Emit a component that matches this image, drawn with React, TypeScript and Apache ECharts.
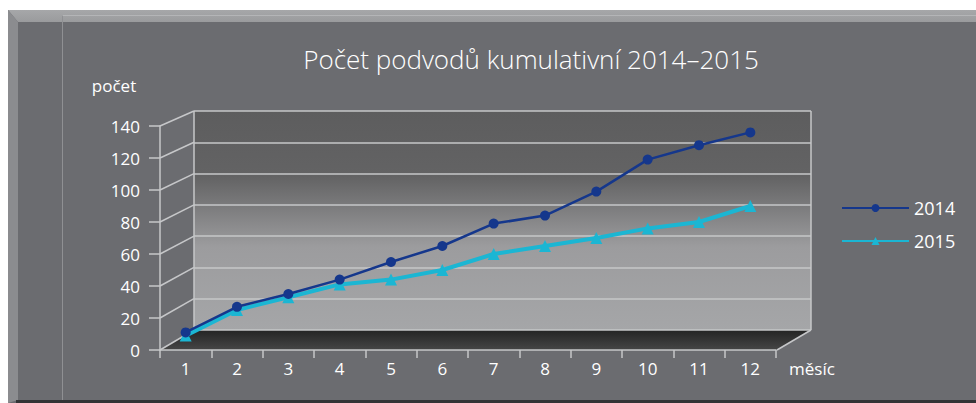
import React, { useEffect, useRef } from "react";
import * as echarts from "echarts";

const months = ["1", "2", "3", "4", "5", "6", "7", "8", "9", "10", "11", "12"];
const s2014 = [11, 27, 35, 44, 55, 65, 79, 84, 99, 119, 128, 136];
const s2015 = [9, 25, 33, 41, 44, 50, 60, 65, 70, 76, 80, 90];
const yTicks = [0, 20, 40, 60, 80, 100, 120, 140];
const seriesNames = ["2014", "2015"];
const titleText = "Počet podvodů kumulativní 2014–2015";
const yName = "počet";
const xName = "měsíc";

const W = 976;
const H = 403;
const FRONT = { left: 160, top: 126, right: 776, bottom: 350 };
const BACK = { left: 194, top: 111, right: 811, bottom: 330 };
const Y_MAX = 140;
const FONT = '"Open Sans", "DejaVu Sans", sans-serif';
const BG = "#6b6c70";
const LINEC = "#c6c7c9";

export default function App() {
  const ref = useRef<HTMLDivElement>(null);
  useEffect(() => {
    if (!ref.current) return;
    const chart = echarts.init(ref.current, undefined, { renderer: "svg" });
    const yF = (v: number) => FRONT.bottom - (v / Y_MAX) * (FRONT.bottom - FRONT.top);
    const yB = (v: number) => BACK.bottom - (v / Y_MAX) * (BACK.bottom - BACK.top);
    const sideLines = yTicks.map((v) => ({
      type: "line",
      z: 1,
      shape: { x1: FRONT.left, y1: yF(v), x2: BACK.left, y2: yB(v) },
      style: { stroke: LINEC, lineWidth: 1.5 },
    }));
    const option: any = {
      animation: false,
      graphic: [
        { type: "rect", z: -10, shape: { x: 8, y: 10, width: W - 8, height: H - 10 }, style: { fill: BG } },
        {
          type: "polygon",
          z: -9,
          shape: { points: [[8, 10], [W, 10], [W, 22], [18, 22]] },
          style: {
            fill: { type: "linear", x: 0, y: 0, x2: 0, y2: 1, colorStops: [
              { offset: 0, color: "#a6a7a9" },
              { offset: 1, color: "#9a9b9d" },
            ] },
          },
        },
        { type: "polygon", z: -9, shape: { points: [[8, 10], [18, 22], [18, 400], [8, 403]] }, style: { fill: "#8b8c8f" } },
        { type: "rect", z: -9, shape: { x: 16, y: 400, width: W - 16, height: 3 }, style: { fill: "#333436" } },
        { type: "line", z: -8, shape: { x1: 62, y1: 15.5, x2: W, y2: 15.5 }, style: { stroke: "#b4b5b7", lineWidth: 1 } },
        { type: "line", z: -8, shape: { x1: 62.5, y1: 15.5, x2: 62.5, y2: 400 }, style: { stroke: "#8f9093", lineWidth: 1 } },
        {
          type: "polygon",
          z: 0,
          shape: { points: [[FRONT.left, FRONT.bottom], [FRONT.right + 1, FRONT.bottom], [BACK.right, BACK.bottom], [BACK.left, BACK.bottom]] },
          style: {
            fill: { type: "linear", x: 0, y: 0, x2: 0, y2: 1, colorStops: [
              { offset: 0, color: "#242424" },
              { offset: 1, color: "#464646" },
            ] },
          },
        },
        { type: "line", z: 1, shape: { x1: FRONT.right + 1, y1: FRONT.bottom, x2: BACK.right, y2: BACK.bottom }, style: { stroke: LINEC, lineWidth: 1.5 } },
        { type: "line", z: 1, shape: { x1: BACK.left, y1: BACK.top, x2: BACK.left, y2: BACK.bottom }, style: { stroke: LINEC, lineWidth: 1.5 } },
        { type: "line", z: 1, shape: { x1: BACK.right, y1: BACK.top, x2: BACK.right, y2: BACK.bottom }, style: { stroke: LINEC, lineWidth: 1.5 } },
        ...sideLines,
        {
          type: "text", z: 5, x: 531, y: 59,
          style: { text: titleText, fill: "#ffffff", font: `300 26px ${FONT}`, textAlign: "center", verticalAlign: "middle" },
        },
        {
          type: "text", z: 5, x: 114, y: 85,
          style: { text: yName, fill: "#ffffff", font: `17px ${FONT}`, textAlign: "center", verticalAlign: "middle" },
        },
        {
          type: "text", z: 5, x: 789, y: 368,
          style: { text: xName, fill: "#ffffff", font: `17px ${FONT}`, textAlign: "left", verticalAlign: "middle" },
        },
      ],
      legend: {
        data: seriesNames,
        orient: "vertical",
        left: 836,
        top: 193,
        itemWidth: 67,
        itemHeight: 10,
        itemGap: 13,
        textStyle: { color: "#ffffff", fontSize: 18, fontFamily: FONT, lineHeight: 20 },
      },
      grid: [
        {
          left: FRONT.left, top: FRONT.top, width: FRONT.right - FRONT.left, height: FRONT.bottom - FRONT.top,
          containLabel: false,
        },
        {
          left: BACK.left, top: BACK.top, width: BACK.right - BACK.left, height: BACK.bottom - BACK.top,
          show: true, borderWidth: 0,
          backgroundColor: { type: "linear", x: 0, y: 0, x2: 0, y2: 1, colorStops: [
            { offset: 0, color: "#5d5d5e" },
            { offset: 0.3, color: "#636364" },
            { offset: 0.62, color: "#9c9c9e" },
            { offset: 1, color: "#a5a6a8" },
          ] },
        },
      ],
      xAxis: [
        {
          type: "category", gridIndex: 0, data: months, boundaryGap: true,
          axisLine: { show: true, lineStyle: { color: LINEC, width: 1.5 } },
          axisTick: { show: true, length: 8, lineStyle: { color: LINEC, width: 1.5 } },
          axisLabel: { color: "#ffffff", fontSize: 17, fontFamily: FONT, margin: 10 },
          splitLine: { show: false },
        },
        { type: "category", gridIndex: 1, data: months, show: false },
      ],
      yAxis: [
        {
          type: "value", gridIndex: 0, min: 0, max: Y_MAX, interval: 20,
          axisLine: { show: true, lineStyle: { color: LINEC, width: 1.5 } },
          axisTick: { show: true, length: 11, lineStyle: { color: LINEC, width: 1.5 } },
          axisLabel: { color: "#ffffff", fontSize: 17, fontFamily: FONT, margin: 20 },
          splitLine: { show: false },
        },
        {
          type: "value", gridIndex: 1, min: 0, max: Y_MAX, interval: 20,
          axisLine: { show: false }, axisTick: { show: false }, axisLabel: { show: false },
          splitLine: { show: true, lineStyle: { color: LINEC, width: 1.5 } },
        },
      ],
      series: [
        {
          name: seriesNames[0], type: "line", xAxisIndex: 0, yAxisIndex: 0, data: s2014, z: 4,
          symbol: "circle", symbolSize: 10,
          itemStyle: { color: "#15378c" },
          lineStyle: { color: "#15378c", width: 2.5 },
        },
        {
          name: seriesNames[1], type: "line", xAxisIndex: 0, yAxisIndex: 0, data: s2015, z: 3,
          symbol: "triangle", symbolSize: 12,
          itemStyle: { color: "#1bb6d3" },
          lineStyle: { color: "#1bb6d3", width: 4 },
        },
      ],
    };
    chart.setOption(option);
    return () => chart.dispose();
  }, []);
  return (
    <div
      ref={ref}
      style={{ position: "absolute", left: 0, top: 0, width: W, height: H }}
    />
  );
}
